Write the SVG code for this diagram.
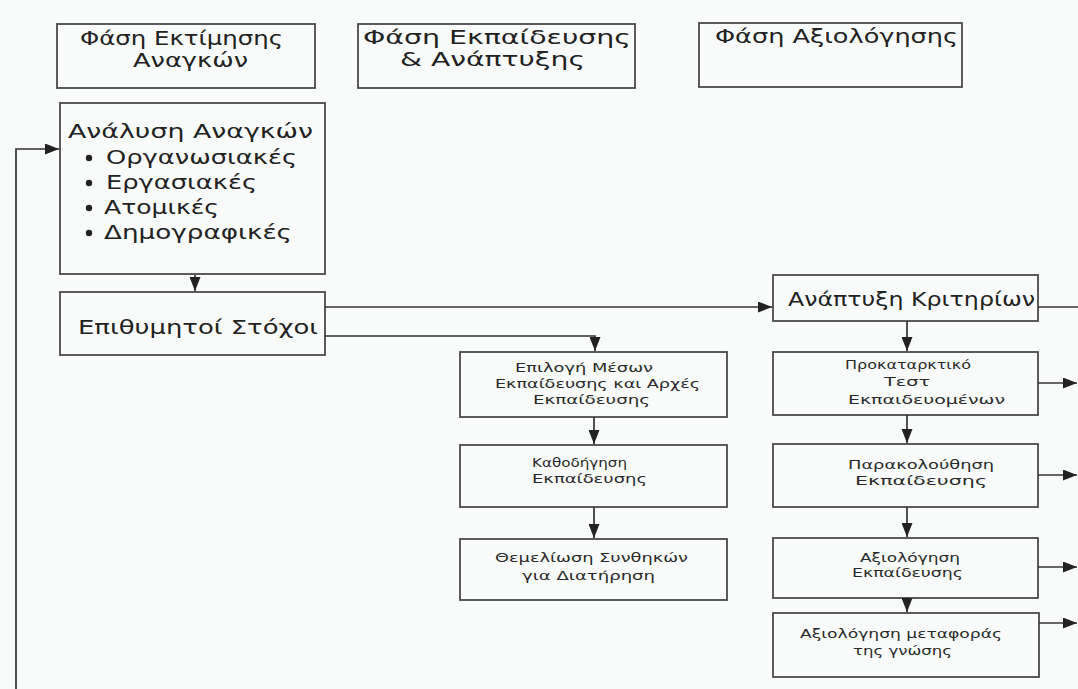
<svg xmlns="http://www.w3.org/2000/svg" width="1078" height="689" viewBox="0 0 1078 689">
<style>
.box{fill:none;stroke:#4a4a4a;stroke-width:1.8}
.ln{fill:none;stroke:#333;stroke-width:1.7}
.big{font-family:"DejaVu Sans","Liberation Sans",sans-serif;font-size:20px;fill:#222}
.sm{font-family:"DejaVu Sans","Liberation Sans",sans-serif;font-size:13px;fill:#2a2a2a}
</style>
<defs>
<marker id="ah" viewBox="0 0 14 11" markerWidth="14" markerHeight="11" refX="14" refY="5.5" orient="auto" markerUnits="userSpaceOnUse">
<path d="M0,0 L14,5.5 L0,11 z" fill="#222"/>
</marker>
</defs>
<rect width="1078" height="689" fill="#f9fbfb"/>

<g id="phase-needs">
<rect class="box" x="57" y="24" width="258" height="64"/>
<text class="big" x="80" y="45" textLength="203" lengthAdjust="spacingAndGlyphs">Φάση Εκτίμησης</text>
<text class="big" x="133" y="67" textLength="115" lengthAdjust="spacingAndGlyphs">Αναγκών</text>
</g>
<g id="phase-training">
<rect class="box" x="358" y="24" width="277" height="64"/>
<text class="big" x="363" y="44" textLength="268" lengthAdjust="spacingAndGlyphs">Φάση Εκπαίδευσης</text>
<text class="big" x="400" y="66" textLength="185" lengthAdjust="spacingAndGlyphs">&amp; Ανάπτυξης</text>
</g>
<g id="phase-eval">
<rect class="box" x="699" y="23" width="263" height="64"/>
<text class="big" x="715" y="43" textLength="243" lengthAdjust="spacingAndGlyphs">Φάση Αξιολόγησης</text>
</g>

<g id="needs-analysis">
<rect class="box" x="60" y="103" width="265" height="171"/>
<text class="big" x="68" y="138" textLength="245" lengthAdjust="spacingAndGlyphs">Ανάλυση Αναγκών</text>
<circle cx="89" cy="158" r="3.2" fill="#222"/>
<text class="big" x="106" y="164" textLength="191" lengthAdjust="spacingAndGlyphs">Οργανωσιακές</text>
<circle cx="89" cy="183" r="3.2" fill="#222"/>
<text class="big" x="106" y="189" textLength="151" lengthAdjust="spacingAndGlyphs">Εργασιακές</text>
<circle cx="89" cy="208" r="3.2" fill="#222"/>
<text class="big" x="104" y="214" textLength="115" lengthAdjust="spacingAndGlyphs">Ατομικές</text>
<circle cx="89" cy="233" r="3.2" fill="#222"/>
<text class="big" x="104" y="239" textLength="188" lengthAdjust="spacingAndGlyphs">Δημογραφικές</text>
</g>
<g id="goals">
<rect class="box" x="60" y="292" width="265" height="63"/>
<text class="big" x="78" y="334" textLength="240" lengthAdjust="spacingAndGlyphs">Επιθυμητοί Στόχοι</text>
</g>

<g id="media-selection">
<rect class="box" x="460" y="352" width="267" height="65"/>
<text class="sm" x="515" y="372" textLength="138" lengthAdjust="spacingAndGlyphs">Επιλογή Μέσων</text>
<text class="sm" x="495" y="388" textLength="205" lengthAdjust="spacingAndGlyphs">Εκπαίδευσης και Αρχές</text>
<text class="sm" x="533" y="404" textLength="117" lengthAdjust="spacingAndGlyphs">Εκπαίδευσης</text>
</g>
<g id="guidance">
<rect class="box" x="460" y="445" width="267" height="62"/>
<text class="sm" x="532" y="467" textLength="95" lengthAdjust="spacingAndGlyphs">Καθοδήγηση</text>
<text class="sm" x="532" y="483" textLength="115" lengthAdjust="spacingAndGlyphs">Εκπαίδευσης</text>
</g>
<g id="foundation">
<rect class="box" x="460" y="539" width="267" height="61"/>
<text class="sm" x="495" y="562" textLength="193" lengthAdjust="spacingAndGlyphs">Θεμελίωση Συνθηκών</text>
<text class="sm" x="522" y="580" textLength="133" lengthAdjust="spacingAndGlyphs">για Διατήρηση</text>
</g>

<g id="criteria">
<rect class="box" x="773" y="275" width="265" height="46"/>
<text class="big" x="788" y="306" textLength="247" lengthAdjust="spacingAndGlyphs">Ανάπτυξη Κριτηρίων</text>
</g>
<g id="pretest">
<rect class="box" x="773" y="352" width="265" height="63"/>
<text class="sm" x="845" y="369" textLength="126" lengthAdjust="spacingAndGlyphs">Προκαταρκτικό</text>
<text class="sm" x="884" y="386" textLength="46" lengthAdjust="spacingAndGlyphs">Τεστ</text>
<text class="sm" x="848" y="404" textLength="157" lengthAdjust="spacingAndGlyphs">Εκπαιδευομένων</text>
</g>
<g id="monitoring">
<rect class="box" x="773" y="444" width="265" height="63"/>
<text class="sm" x="848" y="469" textLength="146" lengthAdjust="spacingAndGlyphs">Παρακολούθηση</text>
<text class="sm" x="855" y="485" textLength="132" lengthAdjust="spacingAndGlyphs">Εκπαίδευσης</text>
</g>
<g id="evaluation">
<rect class="box" x="773" y="538" width="265" height="60"/>
<text class="sm" x="860" y="562" textLength="100" lengthAdjust="spacingAndGlyphs">Αξιολόγηση</text>
<text class="sm" x="852" y="577" textLength="111" lengthAdjust="spacingAndGlyphs">Εκπαίδευσης</text>
</g>
<g id="transfer">
<rect class="box" x="773" y="613" width="266" height="64"/>
<text class="sm" x="800" y="638" textLength="202" lengthAdjust="spacingAndGlyphs">Αξιολόγηση μεταφοράς</text>
<text class="sm" x="853" y="655" textLength="99" lengthAdjust="spacingAndGlyphs">της γνώσης</text>
</g>

<g id="connectors">
<polyline class="ln" points="16,689 16,149 59,149" marker-end="url(#ah)"/>
<line class="ln" x1="195" y1="275" x2="195" y2="291" marker-end="url(#ah)"/>
<line class="ln" x1="325" y1="307" x2="772" y2="307" marker-end="url(#ah)"/>
<polyline class="ln" points="325,336 595,336 595,351" marker-end="url(#ah)"/>
<line class="ln" x1="594" y1="417" x2="594" y2="444" marker-end="url(#ah)"/>
<line class="ln" x1="594" y1="507" x2="594" y2="538" marker-end="url(#ah)"/>
<line class="ln" x1="1038" y1="307" x2="1078" y2="307"/>
<line class="ln" x1="907" y1="321" x2="907" y2="351" marker-end="url(#ah)"/>
<line class="ln" x1="1038" y1="383" x2="1077" y2="383" marker-end="url(#ah)"/>
<line class="ln" x1="907" y1="415" x2="907" y2="443" marker-end="url(#ah)"/>
<line class="ln" x1="1038" y1="475" x2="1077" y2="475" marker-end="url(#ah)"/>
<line class="ln" x1="907" y1="507" x2="907" y2="537" marker-end="url(#ah)"/>
<line class="ln" x1="1038" y1="567" x2="1077" y2="567" marker-end="url(#ah)"/>
<line class="ln" x1="907" y1="598" x2="907" y2="612" marker-end="url(#ah)"/>
<line class="ln" x1="1039" y1="623" x2="1077" y2="623" marker-end="url(#ah)"/>
</g>
</svg>
